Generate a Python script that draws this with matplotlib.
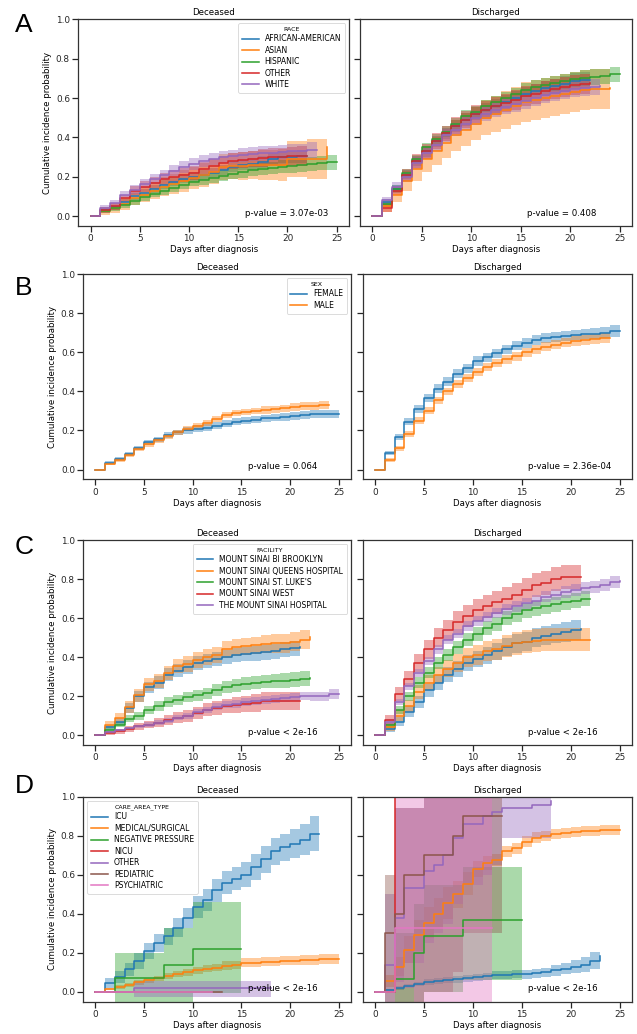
import matplotlib
matplotlib.use('Agg')
import matplotlib.pyplot as plt
import numpy as np

plt.rcParams['font.family'] = ['DejaVu Sans']

COLORS = ['#1f77b4', '#ff7f0e', '#2ca02c', '#d62728', '#9467bd', '#8c564b', '#e377c2']

# ---------------- Row A: RACE ----------------
race_labels = ['AFRICAN-AMERICAN', 'ASIAN', 'HISPANIC', 'OTHER', 'WHITE']
race_dec = [
    [0, .03, .045, .07, .10, .12, .14, .16, .175, .19, .20, .21, .22, .235, .25, .26, .265, .275, .29, .30, .30, .305, .305],
    [0, .025, .04, .06, .09, .11, .13, .15, .165, .18, .195, .21, .225, .25, .255, .255, .26, .26, .26, .26, .29, .29, .29, .29, .35],
    [0, .025, .04, .055, .075, .095, .115, .13, .145, .16, .175, .185, .195, .205, .215, .225, .235, .24, .245, .25, .255, .26, .265, .27, .275, .275],
    [0, .03, .05, .09, .13, .15, .17, .19, .20, .21, .22, .24, .255, .27, .28, .285, .29, .295, .30, .30, .305, .305, .305],
    [0, .04, .065, .11, .135, .165, .19, .21, .23, .25, .265, .28, .29, .30, .305, .31, .315, .32, .32, .325, .33, .33, .335, .335],
]
race_dec_hw = [
    [0, .01, .012, .015, .018, .02, .02, .022, .022, .024, .025, .025, .026, .027, .028, .028, .03, .03, .03, .032, .032, .033, .033],
    [0, .02, .025, .03, .035, .04, .045, .05, .05, .055, .055, .06, .06, .065, .065, .07, .07, .075, .075, .08, .09, .09, .1, .1, .1],
    [0, .01, .012, .014, .016, .018, .02, .021, .022, .023, .024, .025, .026, .027, .028, .029, .03, .031, .032, .033, .034, .035, .036, .037, .038, .038],
    [0, .015, .018, .02, .025, .027, .03, .03, .032, .034, .035, .036, .037, .038, .04, .04, .042, .044, .045, .046, .048, .05, .05],
    [0, .015, .018, .02, .022, .024, .026, .027, .028, .029, .03, .03, .031, .032, .033, .034, .035, .035, .036, .037, .038, .038, .04, .04],
]
race_dis = [
    [0, .07, .14, .21, .28, .33, .38, .42, .46, .49, .52, .54, .56, .58, .60, .62, .635, .65, .66, .67, .685, .69, .69],
    [0, .05, .11, .18, .24, .29, .33, .37, .41, .44, .47, .50, .52, .54, .56, .58, .59, .60, .61, .62, .63, .64, .645, .645, .65],
    [0, .06, .14, .22, .29, .35, .39, .43, .47, .51, .53, .56, .58, .60, .62, .64, .655, .665, .675, .685, .695, .70, .705, .71, .72, .72],
    [0, .04, .13, .21, .28, .33, .38, .42, .46, .49, .52, .54, .56, .575, .59, .61, .62, .635, .645, .655, .665, .67, .675],
    [0, .08, .15, .20, .27, .32, .36, .41, .44, .47, .50, .52, .54, .555, .57, .585, .60, .615, .625, .635, .645, .65, .655, .66],
]
race_dis_hw = [
    [0, .015, .02, .022, .025, .027, .028, .03, .03, .032, .032, .034, .034, .035, .036, .036, .037, .038, .038, .04, .04, .04, .04],
    [0, .03, .04, .05, .06, .065, .07, .075, .08, .085, .085, .09, .09, .095, .095, .1, .1, .1, .1, .1, .1, .1, .1, .1, .1],
    [0, .012, .018, .02, .022, .024, .025, .026, .027, .028, .029, .03, .031, .032, .033, .034, .035, .036, .037, .038, .039, .04, .04, .04, .04, .04],
    [0, .02, .025, .03, .035, .038, .04, .04, .042, .044, .045, .046, .047, .048, .05, .05, .05, .05, .05, .05, .05, .05, .05],
    [0, .018, .022, .025, .028, .03, .03, .032, .033, .034, .035, .036, .037, .038, .039, .04, .04, .04, .04, .04, .04, .04, .04, .04],
]

# ---------------- Row B: SEX ----------------
sex_labels = ['FEMALE', 'MALE']
sex_dec = [
    [0, .035, .055, .08, .11, .14, .155, .175, .19, .20, .21, .215, .225, .235, .245, .25, .255, .262, .265, .27, .275, .28, .283, .285, .285, .285],
    [0, .028, .05, .075, .105, .13, .15, .17, .19, .21, .225, .24, .26, .28, .29, .295, .30, .305, .31, .315, .32, .325, .327, .33, .33],
]
sex_dec_hw = [
    [0, .008, .01, .011, .012, .013, .014, .015, .015, .016, .016, .016, .017, .017, .017, .018, .018, .018, .018, .019, .019, .019, .02, .02, .02, .02],
    [0, .007, .009, .01, .011, .012, .013, .014, .014, .015, .015, .016, .016, .016, .017, .017, .017, .018, .018, .018, .019, .019, .02, .02, .02],
]
sex_dis = [
    [0, .085, .165, .245, .31, .365, .415, .45, .49, .52, .555, .575, .595, .615, .635, .65, .665, .675, .68, .685, .69, .695, .695, .70, .71, .71],
    [0, .048, .108, .18, .25, .30, .355, .40, .44, .47, .50, .525, .545, .565, .58, .60, .615, .63, .64, .65, .66, .665, .67, .675, .675],
]
sex_dis_hw = [
    [0, .012, .016, .018, .02, .021, .022, .022, .023, .023, .024, .024, .024, .025, .025, .025, .026, .026, .026, .027, .027, .027, .028, .028, .03, .03],
    [0, .01, .013, .015, .017, .018, .019, .02, .02, .021, .021, .022, .022, .022, .023, .023, .023, .024, .024, .024, .025, .025, .025, .025, .025],
]

# ---------------- Row C: FACILITY ----------------
fac_labels = ['MOUNT SINAI BI BROOKLYN', 'MOUNT SINAI QUEENS HOSPITAL', "MOUNT SINAI ST. LUKE'S",
              'MOUNT SINAI WEST', 'THE MOUNT SINAI HOSPITAL']
fac_dec = [
    [0, .04, .07, .14, .20, .245, .27, .31, .33, .35, .37, .38, .39, .40, .41, .415, .42, .425, .43, .44, .445, .45],
    [0, .055, .09, .145, .205, .26, .28, .32, .355, .365, .385, .40, .41, .44, .45, .455, .46, .465, .47, .47, .48, .49, .505],
    [0, .025, .055, .085, .10, .13, .15, .17, .18, .195, .205, .215, .23, .245, .255, .265, .27, .275, .28, .28, .285, .29, .295],
    [0, .01, .02, .03, .045, .055, .065, .08, .09, .10, .115, .13, .14, .15, .155, .16, .165, .175, .175, .175, .175, .175],
    [0, .015, .025, .035, .045, .055, .065, .075, .09, .10, .12, .13, .145, .155, .16, .17, .175, .18, .185, .19, .195, .2, .2, .2, .21, .21],
]
fac_dec_hw = [
    [0, .015, .02, .025, .028, .03, .031, .032, .033, .034, .035, .035, .036, .036, .037, .037, .038, .038, .039, .039, .04, .04],
    [0, .02, .025, .03, .033, .035, .036, .037, .038, .04, .04, .041, .042, .043, .044, .045, .045, .046, .047, .048, .049, .05, .05],
    [0, .01, .015, .018, .02, .022, .024, .025, .026, .027, .028, .029, .03, .031, .032, .033, .034, .035, .036, .037, .038, .039, .04],
    [0, .01, .012, .015, .018, .02, .022, .025, .027, .03, .032, .034, .036, .038, .04, .042, .044, .045, .045, .045, .045, .045],
    [0, .006, .008, .009, .01, .011, .012, .013, .014, .015, .016, .017, .018, .018, .019, .019, .02, .02, .021, .021, .022, .022, .023, .024, .025, .025],
]
fac_dis = [
    [0, .03, .07, .12, .17, .23, .27, .31, .34, .37, .39, .41, .43, .45, .47, .48, .50, .51, .52, .53, .54, .545],
    [0, .04, .10, .15, .22, .27, .31, .34, .37, .40, .41, .43, .44, .455, .47, .48, .485, .49, .49, .49, .49, .49, .49],
    [0, .05, .13, .20, .27, .32, .37, .41, .45, .49, .52, .55, .57, .60, .62, .64, .65, .66, .67, .68, .69, .70, .70],
    [0, .08, .21, .29, .37, .44, .50, .54, .58, .61, .64, .66, .68, .70, .72, .745, .77, .78, .80, .81, .81, .81],
    [0, .07, .17, .25, .32, .38, .44, .49, .52, .56, .585, .605, .625, .645, .66, .675, .69, .71, .72, .735, .745, .755, .76, .77, .785, .79],
]
fac_dis_hw = [
    [0, .015, .022, .028, .032, .035, .037, .039, .04, .042, .043, .044, .045, .046, .047, .048, .049, .05, .05, .05, .05, .05],
    [0, .02, .028, .033, .036, .04, .042, .044, .046, .048, .05, .052, .054, .056, .058, .06, .06, .06, .06, .06, .06, .06, .06],
    [0, .015, .02, .024, .027, .029, .031, .032, .033, .034, .035, .036, .037, .037, .038, .038, .039, .039, .04, .04, .04, .04, .04],
    [0, .025, .035, .04, .045, .048, .05, .052, .054, .055, .056, .057, .058, .058, .059, .06, .06, .06, .06, .06, .06, .06],
    [0, .012, .016, .018, .02, .021, .022, .023, .024, .025, .025, .026, .026, .027, .027, .028, .028, .029, .029, .03, .03, .03, .03, .03, .03, .03],
]

# ---------------- Row D: CARE_AREA_TYPE (irregular event times) ----------------
care_labels = ['ICU', 'MEDICAL/SURGICAL', 'NEGATIVE PRESSURE', 'NICU', 'OTHER', 'PEDIATRIC', 'PSYCHIATRIC']

# Deceased
icu_dec_t = list(range(24))
icu_dec = [0, .045, .075, .115, .16, .21, .25, .285, .33, .38, .435, .47, .52, .56, .58, .60, .64, .68, .72, .74, .76, .78, .81, .81]
icu_dec_lo = [0, .02, .045, .08, .12, .17, .205, .24, .28, .33, .38, .415, .46, .50, .52, .535, .575, .61, .65, .67, .685, .70, .72, .72]
icu_dec_hi = [0, .07, .105, .15, .20, .25, .295, .33, .38, .43, .49, .525, .58, .62, .64, .665, .705, .75, .79, .81, .835, .86, .90, .90]
med_dec_t = list(range(26))
med_dec = [0, .015, .025, .035, .05, .06, .07, .08, .09, .10, .11, .12, .125, .135, .14, .15, .15, .155, .155, .16, .16, .165, .165, .17, .17, .17]
med_dec_lo = [0, .008, .016, .025, .038, .047, .056, .065, .074, .083, .092, .101, .105, .114, .119, .128, .128, .132, .132, .136, .136, .14, .14, .144, .144, .144]
med_dec_hi = [0, .022, .034, .045, .062, .073, .084, .095, .106, .117, .128, .139, .145, .156, .161, .172, .172, .178, .178, .184, .184, .19, .19, .196, .196, .196]
neg_dec_t = [0, 2, 7, 10, 15]
neg_dec = [0, .07, .14, .22, .22]
neg_dec_lo = [0, -.1, -.1, -.005, -.005]
neg_dec_hi = [0, .2, .33, .46, .46]
nicu_dec_t = [0, 2]
nicu_dec = [0, 0]
oth_dec_t = [0, 4, 18]
oth_dec = [0, .02, .02]
oth_dec_lo = [0, -.025, -.025]
oth_dec_hi = [0, .055, .055]
ped_dec_t = [0, 13]
ped_dec = [0, 0]
psy_dec_t = [0, 12]
psy_dec = [0, 0]

# Discharged
icu_dis_t = list(range(24))
icu_dis = [0, .01, .02, .03, .04, .05, .055, .06, .065, .07, .075, .08, .085, .087, .09, .09, .095, .10, .11, .12, .13, .14, .16, .185]
icu_dis_lo = [0, .005, .01, .02, .028, .035, .04, .045, .048, .053, .057, .062, .065, .067, .07, .068, .073, .075, .08, .09, .095, .10, .115, .135]
icu_dis_hi = [0, .015, .03, .04, .052, .065, .07, .075, .082, .087, .093, .098, .105, .107, .11, .112, .117, .125, .14, .15, .165, .18, .205, .235]
med_dis_t = list(range(26))
med_dis = [0, .055, .13, .216, .29, .355, .40, .455, .50, .555, .63, .66, .675, .72, .735, .77, .79, .80, .81, .815, .82, .825, .825, .83, .83, .83]
med_dis_lo = [0, .025, .08, .146, .21, .275, .32, .375, .43, .495, .59, .625, .645, .69, .705, .74, .762, .774, .785, .79, .795, .80, .80, .805, .805, .805]
med_dis_hi = [0, .085, .18, .286, .37, .435, .48, .535, .57, .615, .67, .695, .705, .75, .765, .80, .818, .826, .835, .84, .845, .85, .85, .855, .855, .855]
neg_dis_t = [0, 2, 4, 5, 9, 15]
neg_dis = [0, .065, .20, .285, .37, .37]
neg_dis_lo = [0, -.1, -.05, 0.0, .06, .06]
neg_dis_hi = [0, .3, .45, .55, .64, .64]
nicu_dis_t = [0, 2]
nicu_dis = [0, 1.0]
oth_dis_t = [0, 1, 2, 3, 5, 6, 7, 8, 9, 11, 12, 13, 16, 18]
oth_dis = [0, .14, .38, .53, .62, .65, .70, .79, .86, .90, .92, .94, .96, .98]
oth_dis_lo = [0, -.1, .05, .15, .25, .3, .35, .45, .55, .6, .65, .79, .79, .79]
oth_dis_hi = [0, .5, .94, .94, 1.05, 1.05, 1.05, 1.05, 1.05, 1.05, 1.05, 1.05, 1.05, 1.05]
ped_dis_t = [0, 1, 2, 3, 5, 8, 9, 13]
ped_dis = [0, .30, .40, .60, .70, .80, .90, .90]
ped_dis_lo = [0, -.1, -.1, -.05, 0, .1, .3, .3]
ped_dis_hi = [0, .6, .94, .94, 1.05, 1.05, 1.05, 1.05]
psy_dis_t = [0, 2, 4, 12]
psy_dis = [0, .33, .33, .33]
psy_dis_lo = [0, .02, -.1, -.1]
psy_dis_hi = [0, 1.05, 1.05, 1.05]

pvals = [('p-value = 3.07e-03', 'p-value = 0.408'),
         ('p-value = 0.064', 'p-value = 2.36e-04'),
         ('p-value < 2e-16', 'p-value < 2e-16'),
         ('p-value < 2e-16', 'p-value < 2e-16')]

# ---------------- Figure ----------------
W, H = 637, 1034
fig = plt.figure(figsize=(W / 100, H / 100), dpi=100)

def frac_box(x0, x1, y0, y1):
    return [x0 / W, 1 - y1 / H, (x1 - x0) / W, (y1 - y0) / H]

row_y = [(19.3, 226), (274.3, 479.3), (540, 745), (796.7, 1001.7)]
row_x = [((78.3, 349), (360, 632)), ((83.3, 351), (362.7, 632)),
         ((83.3, 351), (362.7, 632)), ((83.3, 351), (362.7, 632))]
letters = ['A', 'B', 'C', 'D']
letter_top = [13, 276, 535, 774]

TICK_FS = 6.4
LAB_FS = 6.2
ALPHA = 0.4
LW = 1.1

def style(ax, left):
    ax.set_xlim(-1.25, 26.25)
    ax.set_ylim(-0.05, 1.0)
    ax.set_xticks([0, 5, 10, 15, 20, 25])
    ax.set_yticks([0, 0.2, 0.4, 0.6, 0.8, 1.0])
    ax.tick_params(direction='out', length=4, width=0.9, labelsize=TICK_FS, colors='0.15', pad=2)
    for s in ax.spines.values():
        s.set_linewidth(0.9)
        s.set_color('0.2')
    ax.set_xlabel('Days after diagnosis', fontsize=LAB_FS, labelpad=1.5)
    if left:
        ax.set_ylabel('Cumulative incidence probability', fontsize=LAB_FS, labelpad=3)
    else:
        ax.set_yticklabels([])

def draw_daily(ax, vals, hws, colors):
    for v, hw, c in zip(vals, hws, colors):
        t = np.arange(len(v))
        v = np.array(v)
        hw = np.array(hw)
        ax.step(t, v, where='post', color=c, lw=LW)
        ax.fill_between(t, v - hw, v + hw, step='post', color=c, alpha=ALPHA, lw=0)

def draw_irreg(ax, series):
    for t, v, lo, hi, c in series:
        ax.step(t, v, where='post', color=c, lw=LW)
        if lo is not None:
            ax.fill_between(t, lo, hi, step='post', color=c, alpha=ALPHA, lw=0)

def add_legend(ax, labels, colors, title, loc):
    handles = [plt.Line2D([], [], color=c, lw=LW) for c in colors[:len(labels)]]
    leg = ax.legend(handles, labels, title=title, loc=loc, fontsize=5.5, title_fontsize=4.5,
                    labelspacing=0.32, handlelength=2.2, borderpad=0.5, framealpha=0.8)
    leg.get_frame().set_linewidth(0.6)

axes = []
for r in range(4):
    y0, y1 = row_y[r]
    (lx0, lx1), (rx0, rx1) = row_x[r]
    axl = fig.add_axes(frac_box(lx0, lx1, y0, y1))
    axr = fig.add_axes(frac_box(rx0, rx1, y0, y1))
    axes.append((axl, axr))
    style(axl, True)
    style(axr, False)
    axl.set_title('Deceased', fontsize=LAB_FS, pad=3)
    axr.set_title('Discharged', fontsize=LAB_FS, pad=3)
    axl.text(0.615, 0.062, pvals[r][0], transform=axl.transAxes, fontsize=LAB_FS, va='center', ha='left')
    axr.text(0.615, 0.062, pvals[r][1], transform=axr.transAxes, fontsize=LAB_FS, va='center', ha='left')
    fig.text(15 / W, 1 - letter_top[r] / H, letters[r], fontsize=19, va='top', ha='left',
             family='Liberation Sans')

# Row A
draw_daily(axes[0][0], race_dec, race_dec_hw, COLORS)
draw_daily(axes[0][1], race_dis, race_dis_hw, COLORS)
add_legend(axes[0][0], race_labels, COLORS, 'RACE', 'upper right')

# Row B
draw_daily(axes[1][0], sex_dec, sex_dec_hw, COLORS)
draw_daily(axes[1][1], sex_dis, sex_dis_hw, COLORS)
add_legend(axes[1][0], sex_labels, COLORS, 'SEX', 'upper right')

# Row C
draw_daily(axes[2][0], fac_dec, fac_dec_hw, COLORS)
draw_daily(axes[2][1], fac_dis, fac_dis_hw, COLORS)
add_legend(axes[2][0], fac_labels, COLORS, 'FACILITY', 'upper right')

# Row D
draw_irreg(axes[3][0], [
    (icu_dec_t, icu_dec, icu_dec_lo, icu_dec_hi, COLORS[0]),
    (med_dec_t, med_dec, med_dec_lo, med_dec_hi, COLORS[1]),
    (neg_dec_t, neg_dec, neg_dec_lo, neg_dec_hi, COLORS[2]),
    (nicu_dec_t, nicu_dec, None, None, COLORS[3]),
    (oth_dec_t, oth_dec, oth_dec_lo, oth_dec_hi, COLORS[4]),
    (ped_dec_t, ped_dec, None, None, COLORS[5]),
    (psy_dec_t, psy_dec, None, None, COLORS[6]),
])
draw_irreg(axes[3][1], [
    (icu_dis_t, icu_dis, icu_dis_lo, icu_dis_hi, COLORS[0]),
    (med_dis_t, med_dis, med_dis_lo, med_dis_hi, COLORS[1]),
    (neg_dis_t, neg_dis, neg_dis_lo, neg_dis_hi, COLORS[2]),
    (nicu_dis_t, nicu_dis, None, None, COLORS[3]),
    (oth_dis_t, oth_dis, oth_dis_lo, oth_dis_hi, COLORS[4]),
    (ped_dis_t, ped_dis, ped_dis_lo, ped_dis_hi, COLORS[5]),
    (psy_dis_t, psy_dis, psy_dis_lo, psy_dis_hi, COLORS[6]),
])
add_legend(axes[3][0], care_labels, COLORS, 'CARE_AREA_TYPE', 'upper left')

fig.savefig('out.png', dpi=100)
